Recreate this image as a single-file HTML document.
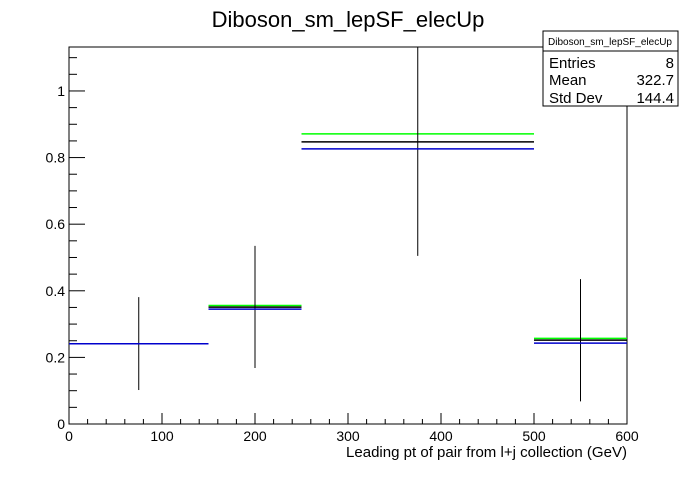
<!DOCTYPE html>
<html><head><meta charset="utf-8"><style>
body{margin:0;background:#fff;}
svg text{font-family:"Liberation Sans",sans-serif;}
</style></head><body>
<svg id="c" width="696" height="472" xmlns="http://www.w3.org/2000/svg">
<rect width="696" height="472" fill="#fff"/>
<text x="348" y="27" font-size="22" text-anchor="middle">Diboson_sm_lepSF_elecUp</text>
<g id="plot"></g>
<g>
<rect x="543" y="31" width="135" height="75" fill="#fff" stroke="#000"/>
<line x1="543" y1="51" x2="678" y2="51" stroke="#000"/>
<text x="610" y="45" font-size="10" text-anchor="middle">Diboson_sm_lepSF_elecUp</text>
<text x="549" y="68" font-size="15">Entries</text><text x="674" y="68" font-size="15" text-anchor="end">8</text>
<text x="549" y="85" font-size="15">Mean</text><text x="674" y="85" font-size="15" text-anchor="end">322.7</text>
<text x="549" y="103" font-size="15">Std Dev</text><text x="674" y="103" font-size="15" text-anchor="end">144.4</text>
</g>
<text x="346" y="457" font-size="14.5" textLength="281" lengthAdjust="spacingAndGlyphs">Leading pt of pair from l+j collection (GeV)</text>
</svg>
<script>
const binEdges=[0,150,250,500,600];
const nominal=[0.241,0.351,0.847,0.252];
const upVals=[0.241,0.356,0.871,0.257];
const downVals=[0.241,0.345,0.826,0.243];
const errLow=[0.102,0.168,0.505,0.068];
const errHigh=[0.381,0.535,1.2,0.435];
const xTicks=[0,100,200,300,400,500,600];
const yTicks=[0,0.2,0.4,0.6,0.8,1];
const X0=69,X1=627,Y0=424,Y1=47,XMAX=600,YMAX=1.132;
const sx=v=>X0+(X1-X0)*v/XMAX;
const sy=v=>Y0-(Y0-Y1)*Math.min(v,YMAX)/YMAX;
const g=document.getElementById('plot');
const NS='http://www.w3.org/2000/svg';
function mk(t,a){const e=document.createElementNS(NS,t);for(const k in a)e.setAttribute(k,a[k]);g.appendChild(e);return e;}
let f=mk('rect',{x:X0,y:Y1,width:X1-X0,height:Y0-Y1,fill:'none',stroke:'#000'});


for(let v=0;v<=XMAX;v+=20){const maj=v%100===0;
 let t=mk('line',{x1:sx(v),x2:sx(v),y1:Y0,y2:Y0-(maj?11:5),stroke:'#000'});
 
 }
xTicks.forEach(v=>{let t=mk('text',{x:sx(v),y:Y0+17,'font-size':14,'text-anchor':'middle'});t.textContent=v;
 
 });
for(let i=0;i*0.05<=YMAX;i++){const v=i*0.05;const maj=i%4===0;
 let t=mk('line',{x1:X0,x2:X0+(maj?16:8),y1:sy(v),y2:sy(v),stroke:'#000'});
 
 }
yTicks.forEach(v=>{let t=mk('text',{x:X0-4,y:sy(v)+5,'font-size':14,'text-anchor':'end'});t.textContent=String(v);
 
 });
function series(vals,col,name){vals.forEach((v,i)=>{
 let l=mk('line',{x1:sx(binEdges[i]),x2:sx(binEdges[i+1]),y1:sy(v),y2:sy(v),stroke:col,'stroke-width':1.5});
 
 });}
series(upVals,'#00ff00','up-variation-bin');
series(nominal,'#000','nominal-bin');
nominal.forEach((v,i)=>{const xc=sx((binEdges[i]+binEdges[i+1])/2);
 let l=mk('line',{x1:xc,x2:xc,y1:sy(errLow[i]),y2:sy(errHigh[i]),stroke:'#000'});
 
 });
series(downVals,'#0000cc','down-variation-bin');
</script>
</body></html>
